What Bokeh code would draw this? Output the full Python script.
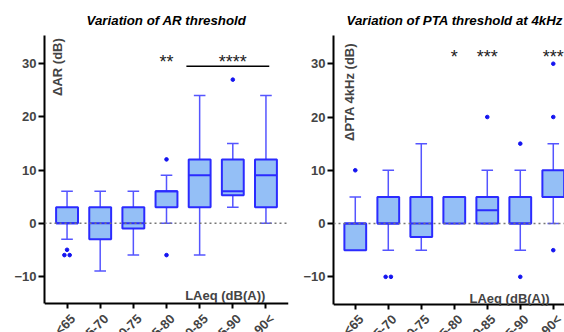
import numpy as np
from bokeh.plotting import figure
from bokeh.layouts import row
from bokeh.models import (FixedTicker, Label, LabelSet, Span, ColumnDataSource, Range1d,
                          LinearAxis)
from bokeh.embed import file_html
from bokeh.resources import INLINE
from bokeh.core.properties import value

# ---------------- data ----------------
categories = ["<65", "65-70", "70-75", "75-80", "80-85", "85-90", "90<"]
y_ticks = [-10, 0, 10, 20, 30]

# Variation of AR threshold
ar_lo = [-3, -9, -6, 0, -6, 3, 0]
ar_q1 = [0, -3, -1, 3, 3, 5.25, 3]
ar_med = [0, 0, 0, 6, 9, 6, 9]
ar_q3 = [3, 3, 3, 6, 12, 12, 12]
ar_hi = [6, 6, 6, 9, 24, 15, 24]
ar_out_cat = [0, 0, 0, 3, 3, 5]
ar_out_val = [-5, -6, -6, 12, -6, 27]
ar_sig_cat = [3, 5]
ar_sig_text = ["**", "****"]
ar_bracket_x = [3.6, 6.1]
ar_bracket_y = [29.5, 29.5]

# Variation of PTA threshold at 4kHz
pta_lo = [-5, -5, -5, 0, 0, -5, 0]
pta_q1 = [-5, 0, -2.5, 0, 0, 0, 5]
pta_med = [0, 0, 0, 5, 2.5, 0, 5]
pta_q3 = [0, 5, 5, 5, 5, 5, 10]
pta_hi = [5, 10, 15, 5, 10, 10, 15]
pta_out_cat = [0, 1, 1, 4, 5, 5, 6, 6, 6]
pta_out_val = [10, -10, -10, 20, -10, 15, -5, 20, 30]
pta_sig_cat = [3, 4, 6]
pta_sig_text = ["*", "***", "***"]

FONT = "Liberation Sans"
BOX_FILL = "#94bff6"
BOX_LINE = "#2b2bff"
WHISK = "#5555ff"
DOT = "#1414f0"
BOX_W = 0.66
CAP_W = 0.35
LABEL_SHIFT = 0.18   # rotated tick labels sit a little right of their tick
FIG_H = 332
TOP = 35
Y_AXIS_MIN = -15.1
Y_MAX = 35.3


def dodge(cats, vals, step=0.16):
    cats = np.asarray(cats, float)
    vals = np.asarray(vals, float)
    xs = cats.copy()
    keys = list(zip(cats, vals))
    for k in set(keys):
        idx = [i for i, kk in enumerate(keys) if kk == k]
        n = len(idx)
        for j, i in enumerate(idx):
            xs[i] = cats[i] + (j - (n - 1) / 2) * step
    return xs


def panel(width, mb_left, mb_right, axis_px, x_rng,
          lo, q1, med, q3, hi, out_cat, out_val,
          title, title_align, title_offset, ylabel, ylabel_pos, laeq_pos,
          sig_cat, sig_text, sig_y):
    # frame runs to the bottom of the canvas; x axis is pinned at Y_AXIS_MIN
    y_start = Y_AXIS_MIN - (FIG_H - axis_px) * (Y_MAX - Y_AXIS_MIN) / (axis_px - TOP)
    p = figure(width=width, height=FIG_H, output_backend="svg", title=title,
               toolbar_location=None, x_range=Range1d(*x_rng),
               y_range=Range1d(y_start, Y_MAX),
               min_border_left=mb_left, min_border_right=mb_right,
               min_border_top=TOP, min_border_bottom=0)
    p.outline_line_color = None
    p.grid.visible = False
    p.background_fill_color = "white"
    p.border_fill_color = "white"

    p.title.text_font = FONT
    p.title.text_font_style = "bold italic"
    p.title.text_font_size = "13.3px"
    p.title.align = title_align
    p.title.offset = title_offset
    p.title.standoff = 16
    p.title.text_color = "black"

    # x axis: line + ticks
    ticks = list(range(len(categories)))
    p.xaxis.fixed_location = Y_AXIS_MIN
    p.xaxis.ticker = FixedTicker(ticks=ticks)
    p.xaxis.major_label_overrides = {i: "" for i in ticks}
    p.xaxis.major_tick_out = 5
    p.xaxis.major_tick_in = 0
    p.xaxis.minor_tick_out = 0
    p.xaxis.minor_tick_in = 0
    # x axis: rotated category labels
    shifted = [i + LABEL_SHIFT for i in ticks]
    lab_axis = LinearAxis(fixed_location=Y_AXIS_MIN, ticker=FixedTicker(ticks=shifted),
                          major_label_overrides={s: c for s, c in zip(shifted, categories)},
                          axis_line_color=None, major_tick_line_color=None,
                          minor_tick_line_color=None, major_tick_out=5, major_tick_in=0,
                          minor_tick_out=0, minor_tick_in=0,
                          major_label_orientation=np.pi / 4, major_label_standoff=8,
                          major_label_text_font=FONT, major_label_text_font_style="bold",
                          major_label_text_font_size="13px")
    p.add_layout(lab_axis, "below")

    p.yaxis.bounds = (Y_AXIS_MIN, Y_MAX)
    p.yaxis.ticker = FixedTicker(ticks=y_ticks)
    p.yaxis.major_tick_out = 6
    p.yaxis.major_tick_in = 0
    p.yaxis.minor_tick_out = 0
    p.yaxis.minor_tick_in = 0
    p.yaxis.major_label_standoff = 2
    p.yaxis.major_label_text_font = FONT
    p.yaxis.major_label_text_font_style = "bold"
    p.yaxis.major_label_text_font_size = "13px"
    for ax in (p.xaxis[0], p.yaxis[0]):
        ax.axis_line_width = 2
        ax.axis_line_color = "black"
        ax.major_tick_line_width = 2
        ax.major_tick_line_color = "black"

    # zero reference line
    p.add_layout(Span(location=0, dimension="width", line_color="#777777",
                      line_dash="2 3", line_width=1.5))

    xs = np.arange(len(categories), dtype=float)
    lo = np.asarray(lo, float); q1 = np.asarray(q1, float)
    med = np.asarray(med, float); q3 = np.asarray(q3, float); hi = np.asarray(hi, float)

    # whiskers
    p.segment(x0=xs, y0=q3, x1=xs, y1=hi, line_color=WHISK, line_width=1.5)
    p.segment(x0=xs, y0=q1, x1=xs, y1=lo, line_color=WHISK, line_width=1.5)
    p.segment(x0=xs - CAP_W / 2, y0=hi, x1=xs + CAP_W / 2, y1=hi, line_color=WHISK, line_width=1.5)
    p.segment(x0=xs - CAP_W / 2, y0=lo, x1=xs + CAP_W / 2, y1=lo, line_color=WHISK, line_width=1.5)
    # boxes
    p.vbar(x=xs, bottom=q1, top=q3, width=BOX_W, fill_color=BOX_FILL,
           line_color=BOX_LINE, line_width=2)
    p.segment(x0=xs - BOX_W / 2, y0=med, x1=xs + BOX_W / 2, y1=med,
              line_color=BOX_LINE, line_width=2)
    # outliers
    p.scatter(x=dodge(out_cat, out_val), y=out_val, size=3.6, color=DOT)

    # y label inside
    p.add_layout(Label(x=ylabel_pos[0], y=ylabel_pos[1], text=ylabel, angle=np.pi / 2,
                       text_align="right", text_baseline="middle", text_font=FONT,
                       text_font_style="bold", text_font_size="13px"))
    # LAeq label
    p.add_layout(Label(x=laeq_pos[0], y=laeq_pos[1], text="LAeq (dB(A))",
                       text_align="right", text_baseline="alphabetic", text_font=FONT,
                       text_font_style="bold", text_font_size="13px"))
    # significance stars
    ssrc = ColumnDataSource(dict(x=sig_cat, y=[sig_y] * len(sig_cat), text=sig_text))
    p.add_layout(LabelSet(x="x", y="y", text="text", source=ssrc, text_align="center",
                          text_baseline="alphabetic", text_font=value(FONT),
                          text_font_size="18px", text_color="#222222"))
    return p


p1 = panel(300, 44, 12, 303, (-0.68, 6.68),
           ar_lo, ar_q1, ar_med, ar_q3, ar_hi, ar_out_cat, ar_out_val,
           "Variation of AR threshold", "center", 0, "\u0394AR (dB)", (-0.29, 34.8),
           (5.98, -13.6), ar_sig_cat, ar_sig_text, 29.2)
p1.line(x=ar_bracket_x, y=ar_bracket_y, line_color="black", line_width=1.5)

p2 = panel(264, 31, 0, 303.5, (-0.66, 6.34),
           pta_lo, pta_q1, pta_med, pta_q3, pta_hi, pta_out_cat, pta_out_val,
           "Variation of PTA threshold at 4kHz", "left", 13, "\u0394PTA 4kHz (dB)",
           (-0.18, 33.9), (5.89, -14.0), pta_sig_cat, pta_sig_text, 30.1)

layout = row(p1, p2)
open("out.html", "w").write(file_html(layout, INLINE))
